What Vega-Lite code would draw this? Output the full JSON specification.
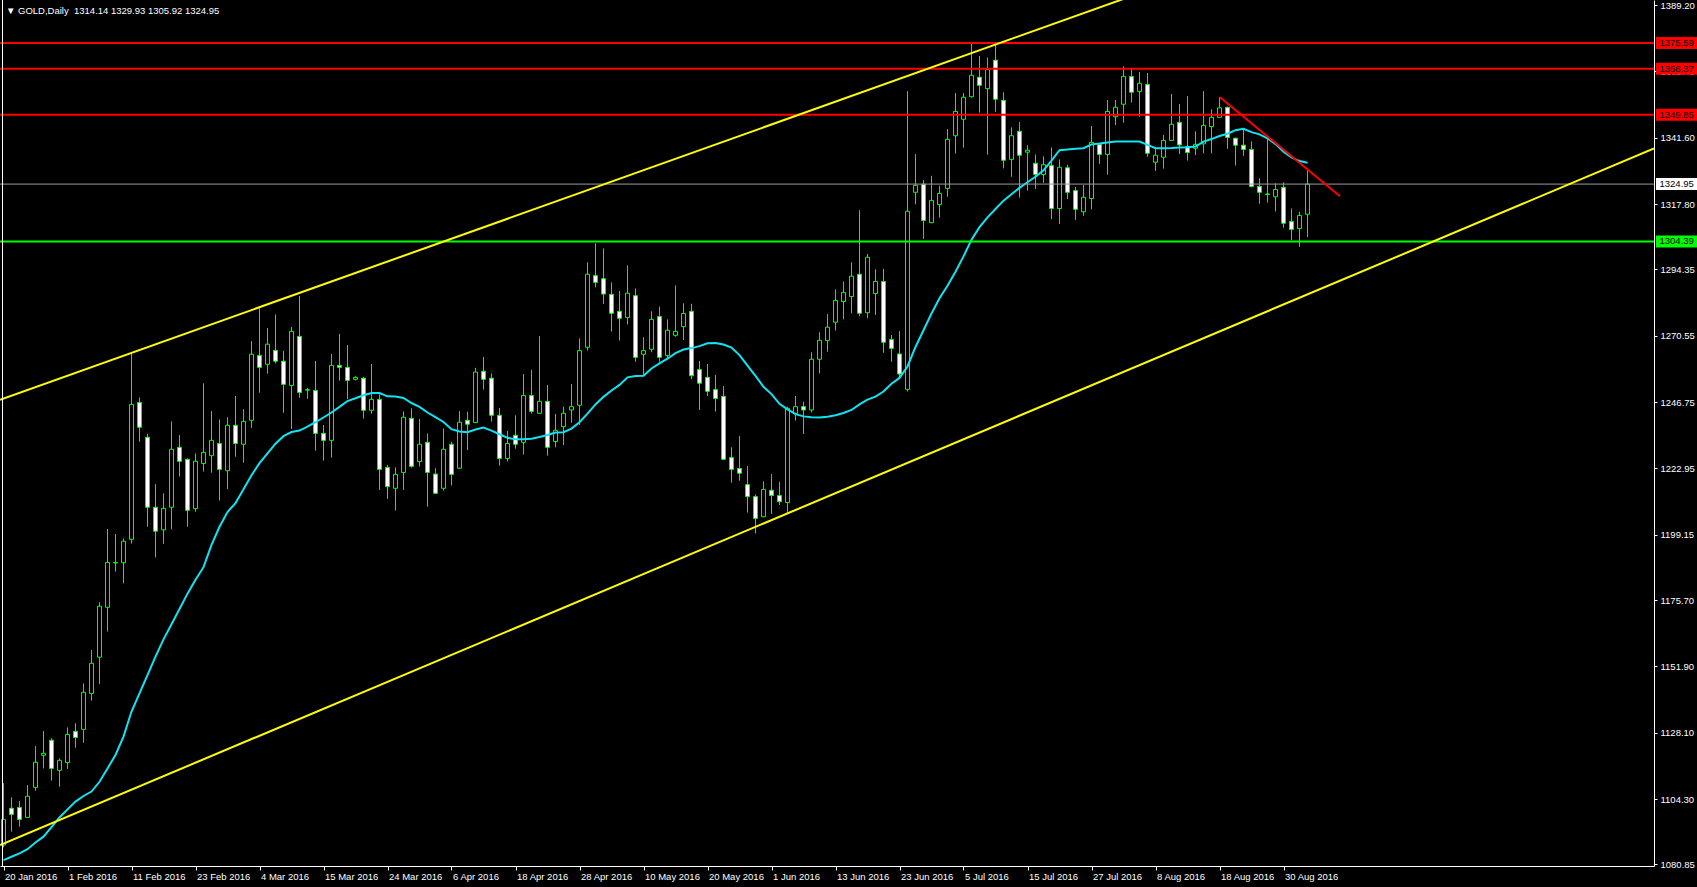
{
  "$schema": "https://vega.github.io/schema/vega-lite/v6.json",
  "width": 1654,
  "height": 866,
  "autosize": {"type": "none"},
  "padding": {"left": 0, "top": 0, "right": 43, "bottom": 21},
  "background": "#000000",
  "config": {"view": {"stroke": null}, "axis": {"grid": false, "labelColor": "#ffffff", "tickColor": "#ffffff", "domainColor": "#ffffff", "labelFont": "Liberation Sans", "labelFontSize": 9.5}, "font": "Liberation Sans"},
  "title": {"text": "▼ GOLD,Daily \u00a01314.14 1329.93 1305.92 1324.95", "anchor": "start", "frame": "group", "color": "#ffffff", "fontSize": 9.5, "fontWeight": "normal", "font": "Liberation Sans", "dx": 6, "dy": 28, "offset": 4, "baseline": "alphabetic"},
  "resolve": {"scale": {"color": "independent"}},
  "datasets": {
    "candles": [
      {"i":0,"o":1087.8,"h":1110.0,"l":1087.0,"c":1097.0,"ma":1082.4},
      {"i":1,"o":1101.0,"h":1104.9,"l":1092.6,"c":1098.8,"ma":1083.6},
      {"i":2,"o":1101.3,"h":1103.6,"l":1094.4,"c":1097.0,"ma":1084.8},
      {"i":3,"o":1097.7,"h":1109.3,"l":1097.5,"c":1105.3,"ma":1086.3},
      {"i":4,"o":1108.5,"h":1123.3,"l":1107.3,"c":1117.5,"ma":1088.7},
      {"i":5,"o":1120.0,"h":1128.7,"l":1115.3,"c":1120.7,"ma":1090.8},
      {"i":6,"o":1125.4,"h":1126.1,"l":1110.9,"c":1115.3,"ma":1094.2},
      {"i":7,"o":1114.6,"h":1118.9,"l":1108.7,"c":1118.2,"ma":1097.7},
      {"i":8,"o":1117.4,"h":1130.0,"l":1115.1,"c":1127.5,"ma":1100.6},
      {"i":9,"o":1128.6,"h":1131.5,"l":1122.7,"c":1126.4,"ma":1103.4},
      {"i":10,"o":1129.3,"h":1145.8,"l":1124.5,"c":1142.6,"ma":1105.4},
      {"i":11,"o":1142.2,"h":1157.8,"l":1139.6,"c":1153.0,"ma":1107.0},
      {"i":12,"o":1155.2,"h":1174.9,"l":1145.5,"c":1173.5,"ma":1110.5},
      {"i":13,"o":1173.1,"h":1201.2,"l":1164.4,"c":1189.2,"ma":1115.3},
      {"i":14,"o":1189.0,"h":1199.4,"l":1185.9,"c":1189.2,"ma":1120.1},
      {"i":15,"o":1189.1,"h":1197.8,"l":1181.7,"c":1196.8,"ma":1126.7},
      {"i":16,"o":1197.5,"h":1264.0,"l":1196.0,"c":1245.9,"ma":1135.7},
      {"i":17,"o":1246.6,"h":1248.4,"l":1232.5,"c":1237.7,"ma":1142.2},
      {"i":18,"o":1234.1,"h":1235.3,"l":1202.0,"c":1209.0,"ma":1148.8},
      {"i":19,"o":1209.0,"h":1217.3,"l":1191.0,"c":1200.4,"ma":1155.4},
      {"i":20,"o":1200.9,"h":1214.0,"l":1195.9,"c":1208.6,"ma":1161.6},
      {"i":21,"o":1209.0,"h":1239.8,"l":1201.1,"c":1229.8,"ma":1167.0},
      {"i":22,"o":1230.5,"h":1234.9,"l":1220.0,"c":1225.5,"ma":1172.5},
      {"i":23,"o":1226.2,"h":1226.5,"l":1202.0,"c":1207.9,"ma":1178.0},
      {"i":24,"o":1208.5,"h":1228.3,"l":1207.4,"c":1225.5,"ma":1183.0},
      {"i":25,"o":1224.7,"h":1253.5,"l":1221.8,"c":1228.7,"ma":1187.5},
      {"i":26,"o":1227.5,"h":1243.5,"l":1221.4,"c":1233.0,"ma":1195.5},
      {"i":27,"o":1231.9,"h":1240.5,"l":1211.4,"c":1222.6,"ma":1202.0},
      {"i":28,"o":1222.1,"h":1241.3,"l":1215.5,"c":1238.4,"ma":1207.3},
      {"i":29,"o":1238.4,"h":1248.9,"l":1227.1,"c":1231.9,"ma":1210.5},
      {"i":30,"o":1231.6,"h":1244.2,"l":1225.0,"c":1239.8,"ma":1215.5},
      {"i":31,"o":1240.2,"h":1268.6,"l":1237.5,"c":1263.9,"ma":1220.5},
      {"i":32,"o":1263.5,"h":1280.4,"l":1250.1,"c":1259.2,"ma":1224.8},
      {"i":33,"o":1260.3,"h":1273.3,"l":1256.9,"c":1267.5,"ma":1228.3},
      {"i":34,"o":1265.3,"h":1278.2,"l":1260.6,"c":1261.4,"ma":1231.8},
      {"i":35,"o":1261.4,"h":1265.1,"l":1242.9,"c":1253.1,"ma":1234.5},
      {"i":36,"o":1252.7,"h":1273.7,"l":1237.1,"c":1272.1,"ma":1236.0},
      {"i":37,"o":1270.3,"h":1284.8,"l":1248.3,"c":1250.2,"ma":1236.5},
      {"i":38,"o":1251.0,"h":1251.8,"l":1247.9,"c":1251.2,"ma":1237.9},
      {"i":39,"o":1250.9,"h":1261.5,"l":1229.3,"c":1235.5,"ma":1239.5},
      {"i":40,"o":1235.5,"h":1238.5,"l":1225.7,"c":1233.0,"ma":1241.2},
      {"i":41,"o":1233.0,"h":1264.0,"l":1226.8,"c":1259.9,"ma":1243.0},
      {"i":42,"o":1259.9,"h":1271.2,"l":1254.4,"c":1259.2,"ma":1245.0},
      {"i":43,"o":1259.2,"h":1267.2,"l":1247.8,"c":1254.5,"ma":1247.1},
      {"i":44,"o":1254.9,"h":1256.0,"l":1254.5,"c":1255.6,"ma":1248.1},
      {"i":45,"o":1255.3,"h":1255.7,"l":1240.8,"c":1243.8,"ma":1249.2},
      {"i":46,"o":1243.8,"h":1260.4,"l":1242.6,"c":1247.7,"ma":1250.0},
      {"i":47,"o":1247.7,"h":1249.5,"l":1215.2,"c":1222.6,"ma":1250.0},
      {"i":48,"o":1223.3,"h":1224.2,"l":1212.0,"c":1216.4,"ma":1248.8},
      {"i":49,"o":1215.8,"h":1223.3,"l":1207.8,"c":1220.8,"ma":1248.7},
      {"i":50,"o":1221.5,"h":1243.4,"l":1215.2,"c":1241.3,"ma":1248.2},
      {"i":51,"o":1240.9,"h":1244.5,"l":1223.2,"c":1223.7,"ma":1246.4},
      {"i":52,"o":1225.4,"h":1240.7,"l":1223.6,"c":1231.6,"ma":1245.0},
      {"i":53,"o":1232.3,"h":1235.5,"l":1209.2,"c":1221.5,"ma":1243.0},
      {"i":54,"o":1220.9,"h":1223.0,"l":1213.8,"c":1214.0,"ma":1241.3},
      {"i":55,"o":1215.8,"h":1237.3,"l":1215.0,"c":1229.8,"ma":1239.6},
      {"i":56,"o":1231.6,"h":1232.5,"l":1216.8,"c":1220.8,"ma":1237.0},
      {"i":57,"o":1223.0,"h":1243.5,"l":1222.8,"c":1239.5,"ma":1236.2},
      {"i":58,"o":1240.2,"h":1243.3,"l":1229.5,"c":1238.8,"ma":1235.9},
      {"i":59,"o":1239.4,"h":1259.0,"l":1239.2,"c":1257.5,"ma":1236.9},
      {"i":60,"o":1257.8,"h":1262.9,"l":1251.2,"c":1254.9,"ma":1237.6},
      {"i":61,"o":1255.3,"h":1257.0,"l":1239.7,"c":1242.0,"ma":1236.5},
      {"i":62,"o":1242.0,"h":1244.6,"l":1223.9,"c":1226.5,"ma":1235.2},
      {"i":63,"o":1226.5,"h":1236.4,"l":1225.4,"c":1231.9,"ma":1233.9},
      {"i":64,"o":1234.8,"h":1242.0,"l":1230.0,"c":1231.6,"ma":1233.4},
      {"i":65,"o":1232.3,"h":1256.8,"l":1227.9,"c":1249.1,"ma":1233.4},
      {"i":66,"o":1249.1,"h":1258.3,"l":1242.6,"c":1243.4,"ma":1233.6},
      {"i":67,"o":1242.7,"h":1270.4,"l":1242.5,"c":1247.0,"ma":1234.2},
      {"i":68,"o":1247.0,"h":1252.9,"l":1227.5,"c":1230.5,"ma":1234.9},
      {"i":69,"o":1232.6,"h":1242.5,"l":1230.5,"c":1236.6,"ma":1235.8},
      {"i":70,"o":1237.9,"h":1245.1,"l":1231.3,"c":1242.7,"ma":1235.9},
      {"i":71,"o":1243.9,"h":1253.2,"l":1239.3,"c":1245.1,"ma":1237.2},
      {"i":72,"o":1245.6,"h":1269.6,"l":1238.5,"c":1265.2,"ma":1239.5},
      {"i":73,"o":1266.4,"h":1296.9,"l":1265.2,"c":1292.6,"ma":1242.6},
      {"i":74,"o":1292.1,"h":1303.7,"l":1287.9,"c":1289.7,"ma":1245.9},
      {"i":75,"o":1291.0,"h":1301.9,"l":1282.0,"c":1285.5,"ma":1248.6},
      {"i":76,"o":1285.4,"h":1289.7,"l":1272.0,"c":1278.6,"ma":1250.9},
      {"i":77,"o":1279.3,"h":1286.6,"l":1268.8,"c":1276.8,"ma":1252.9},
      {"i":78,"o":1277.1,"h":1295.8,"l":1274.6,"c":1285.8,"ma":1255.6},
      {"i":79,"o":1284.9,"h":1287.5,"l":1261.2,"c":1262.8,"ma":1256.1},
      {"i":80,"o":1263.9,"h":1270.0,"l":1256.5,"c":1265.2,"ma":1256.2},
      {"i":81,"o":1265.7,"h":1279.3,"l":1264.6,"c":1276.4,"ma":1258.8},
      {"i":82,"o":1277.4,"h":1281.0,"l":1261.2,"c":1262.8,"ma":1260.6},
      {"i":83,"o":1263.4,"h":1276.4,"l":1262.4,"c":1272.5,"ma":1262.3},
      {"i":84,"o":1270.7,"h":1288.6,"l":1270.2,"c":1272.1,"ma":1264.3},
      {"i":85,"o":1273.8,"h":1282.2,"l":1269.0,"c":1278.5,"ma":1265.6},
      {"i":86,"o":1279.3,"h":1282.0,"l":1255.0,"c":1256.2,"ma":1266.1},
      {"i":87,"o":1258.4,"h":1261.5,"l":1243.9,"c":1253.5,"ma":1266.8},
      {"i":88,"o":1255.6,"h":1260.4,"l":1248.9,"c":1250.6,"ma":1267.8},
      {"i":89,"o":1251.2,"h":1256.5,"l":1243.3,"c":1248.0,"ma":1267.9},
      {"i":90,"o":1248.8,"h":1252.5,"l":1226.0,"c":1226.2,"ma":1267.4},
      {"i":91,"o":1226.8,"h":1230.5,"l":1217.8,"c":1222.6,"ma":1266.3},
      {"i":92,"o":1222.9,"h":1234.6,"l":1218.5,"c":1221.2,"ma":1263.6},
      {"i":93,"o":1217.1,"h":1223.8,"l":1207.1,"c":1212.8,"ma":1259.8},
      {"i":94,"o":1212.8,"h":1213.6,"l":1199.6,"c":1205.0,"ma":1256.1},
      {"i":95,"o":1205.6,"h":1218.3,"l":1205.4,"c":1215.4,"ma":1252.2},
      {"i":96,"o":1215.1,"h":1220.9,"l":1206.6,"c":1213.2,"ma":1249.6},
      {"i":97,"o":1213.2,"h":1218.1,"l":1209.8,"c":1211.0,"ma":1246.1},
      {"i":98,"o":1210.7,"h":1245.1,"l":1206.8,"c":1244.5,"ma":1244.1},
      {"i":99,"o":1242.7,"h":1248.9,"l":1240.1,"c":1245.1,"ma":1242.4},
      {"i":100,"o":1245.1,"h":1246.9,"l":1235.3,"c":1243.9,"ma":1241.6},
      {"i":101,"o":1243.9,"h":1264.6,"l":1243.0,"c":1262.1,"ma":1241.3},
      {"i":102,"o":1262.1,"h":1271.8,"l":1257.0,"c":1268.9,"ma":1241.2},
      {"i":103,"o":1268.8,"h":1278.3,"l":1264.8,"c":1273.6,"ma":1241.5},
      {"i":104,"o":1275.4,"h":1287.2,"l":1272.4,"c":1283.2,"ma":1242.0},
      {"i":105,"o":1282.8,"h":1290.0,"l":1276.4,"c":1286.1,"ma":1242.8},
      {"i":106,"o":1284.6,"h":1296.9,"l":1278.6,"c":1291.9,"ma":1243.9},
      {"i":107,"o":1292.6,"h":1315.6,"l":1277.6,"c":1278.6,"ma":1245.9},
      {"i":108,"o":1278.8,"h":1299.9,"l":1276.8,"c":1298.7,"ma":1247.6},
      {"i":109,"o":1285.7,"h":1294.4,"l":1278.0,"c":1290.0,"ma":1248.7},
      {"i":110,"o":1290.0,"h":1294.5,"l":1264.4,"c":1268.2,"ma":1250.5},
      {"i":111,"o":1269.2,"h":1270.8,"l":1261.2,"c":1266.0,"ma":1253.3},
      {"i":112,"o":1264.0,"h":1272.2,"l":1255.3,"c":1256.8,"ma":1255.4},
      {"i":113,"o":1251.3,"h":1358.3,"l":1250.5,"c":1315.2,"ma":1259.5},
      {"i":114,"o":1322.0,"h":1335.7,"l":1317.7,"c":1324.5,"ma":1266.5},
      {"i":115,"o":1324.9,"h":1326.4,"l":1305.3,"c":1311.9,"ma":1272.5},
      {"i":116,"o":1311.1,"h":1327.9,"l":1310.9,"c":1319.1,"ma":1278.5},
      {"i":117,"o":1317.6,"h":1324.3,"l":1312.9,"c":1321.6,"ma":1284.0},
      {"i":118,"o":1323.4,"h":1344.7,"l":1320.4,"c":1341.0,"ma":1288.5},
      {"i":119,"o":1342.3,"h":1357.6,"l":1335.9,"c":1351.0,"ma":1293.5},
      {"i":120,"o":1348.2,"h":1357.6,"l":1338.0,"c":1356.1,"ma":1299.0},
      {"i":121,"o":1356.3,"h":1375.2,"l":1356.0,"c":1364.0,"ma":1305.0},
      {"i":122,"o":1363.3,"h":1370.9,"l":1350.6,"c":1360.4,"ma":1309.5},
      {"i":123,"o":1359.2,"h":1370.4,"l":1335.5,"c":1366.1,"ma":1313.0},
      {"i":124,"o":1369.4,"h":1375.5,"l":1350.9,"c":1355.4,"ma":1316.0},
      {"i":125,"o":1355.0,"h":1357.9,"l":1330.6,"c":1333.5,"ma":1319.0},
      {"i":126,"o":1333.8,"h":1345.3,"l":1327.6,"c":1342.3,"ma":1321.3},
      {"i":127,"o":1343.9,"h":1347.2,"l":1320.1,"c":1335.3,"ma":1323.6},
      {"i":128,"o":1336.4,"h":1338.9,"l":1322.6,"c":1337.1,"ma":1325.6},
      {"i":129,"o":1332.4,"h":1335.6,"l":1323.2,"c":1328.4,"ma":1327.6},
      {"i":130,"o":1328.4,"h":1334.9,"l":1325.4,"c":1331.9,"ma":1329.9},
      {"i":131,"o":1331.6,"h":1338.1,"l":1312.4,"c":1316.2,"ma":1333.4},
      {"i":132,"o":1316.2,"h":1333.8,"l":1310.7,"c":1331.0,"ma":1337.1},
      {"i":133,"o":1330.8,"h":1331.9,"l":1319.6,"c":1322.0,"ma":1337.4},
      {"i":134,"o":1322.6,"h":1323.9,"l":1312.1,"c":1315.9,"ma":1337.6},
      {"i":135,"o":1315.0,"h":1324.6,"l":1313.6,"c":1320.2,"ma":1337.8},
      {"i":136,"o":1319.8,"h":1345.8,"l":1315.9,"c":1339.9,"ma":1339.2},
      {"i":137,"o":1339.2,"h":1339.6,"l":1332.2,"c":1335.6,"ma":1339.5},
      {"i":138,"o":1335.6,"h":1355.1,"l":1328.3,"c":1351.0,"ma":1339.9},
      {"i":139,"o":1349.1,"h":1355.1,"l":1346.1,"c":1352.5,"ma":1340.2},
      {"i":140,"o":1353.6,"h":1367.2,"l":1347.0,"c":1363.6,"ma":1340.2},
      {"i":141,"o":1363.5,"h":1366.5,"l":1354.2,"c":1357.9,"ma":1340.2},
      {"i":142,"o":1358.2,"h":1365.2,"l":1349.1,"c":1361.1,"ma":1340.2},
      {"i":143,"o":1360.7,"h":1364.8,"l":1334.8,"c":1336.0,"ma":1339.0},
      {"i":144,"o":1332.8,"h":1338.1,"l":1329.7,"c":1335.3,"ma":1337.8},
      {"i":145,"o":1334.6,"h":1342.6,"l":1330.5,"c":1340.6,"ma":1337.8},
      {"i":146,"o":1340.6,"h":1357.3,"l":1340.5,"c":1346.4,"ma":1337.9},
      {"i":147,"o":1347.1,"h":1353.7,"l":1335.7,"c":1339.0,"ma":1338.1},
      {"i":148,"o":1338.4,"h":1356.5,"l":1333.4,"c":1336.3,"ma":1338.2},
      {"i":149,"o":1337.8,"h":1343.9,"l":1335.4,"c":1339.2,"ma":1338.4},
      {"i":150,"o":1339.4,"h":1358.3,"l":1336.0,"c":1346.0,"ma":1340.2},
      {"i":151,"o":1345.6,"h":1351.8,"l":1336.0,"c":1348.9,"ma":1341.1},
      {"i":152,"o":1348.9,"h":1356.1,"l":1348.7,"c":1352.3,"ma":1342.2},
      {"i":153,"o":1352.5,"h":1352.7,"l":1337.6,"c":1341.7,"ma":1343.0},
      {"i":154,"o":1341.4,"h":1341.6,"l":1331.6,"c":1338.9,"ma":1344.3},
      {"i":155,"o":1338.9,"h":1344.6,"l":1335.1,"c":1337.4,"ma":1344.8},
      {"i":156,"o":1337.4,"h":1340.3,"l":1323.8,"c":1324.1,"ma":1343.6},
      {"i":157,"o":1324.1,"h":1327.0,"l":1317.9,"c":1322.0,"ma":1342.8},
      {"i":158,"o":1321.2,"h":1342.4,"l":1318.3,"c":1321.4,"ma":1341.4},
      {"i":159,"o":1320.4,"h":1325.2,"l":1315.1,"c":1323.0,"ma":1339.3},
      {"i":160,"o":1323.8,"h":1325.6,"l":1309.3,"c":1310.9,"ma":1336.6},
      {"i":161,"o":1311.5,"h":1316.2,"l":1304.9,"c":1308.7,"ma":1334.5},
      {"i":162,"o":1309.0,"h":1315.0,"l":1302.5,"c":1313.7,"ma":1333.2},
      {"i":163,"o":1314.14,"h":1329.93,"l":1305.92,"c":1324.95,"ma":1332.6}
    ],
    "trend": [
      {"name":"channel_top","i":-0.4375,"p":1247.55},
      {"name":"channel_top","i":144.56,"p":1396.06},
      {"name":"channel_bottom","i":-0.4375,"p":1087.81},
      {"name":"channel_bottom","i":206.3125,"p":1337.72},
      {"name":"down","i":152.06,"p":1356.09},
      {"name":"down","i":167.06,"p":1320.57}
    ],
    "levels": [
      {"kind":"resistance","p":1375.59},
      {"kind":"resistance","p":1366.37},
      {"kind":"resistance","p":1349.85},
      {"kind":"support","p":1304.39},
      {"kind":"bid","p":1324.95}
    ],
    "frame": [{"edge": -0.125}]
  },
  "layer": [
    {
      "data": {"name": "candles"},
      "mark": {"type": "rule", "color": "#00ff00", "strokeWidth": 1},
      "encoding": {
        "x": {"field": "i", "type": "quantitative", "title": null, "scale": {"domain": [-0.4375, 206.3125], "nice": false, "zero": false, "padding": 0},
          "axis": {"title": null, "values": [0,8,16,24,32,40,48,56,64,72,80,88,96,104,112,120,128,136,144,152,160],
            "labelExpr": "['20 Jan 2016','1 Feb 2016','11 Feb 2016','23 Feb 2016','4 Mar 2016','15 Mar 2016','24 Mar 2016','6 Apr 2016','18 Apr 2016','28 Apr 2016','10 May 2016','20 May 2016','1 Jun 2016','13 Jun 2016','23 Jun 2016','5 Jul 2016','15 Jul 2016','27 Jul 2016','8 Aug 2016','18 Aug 2016','30 Aug 2016'][round(datum.value/8)]",
            "labelAlign": "left", "labelBaseline": "top", "labelOffset": 1, "labelPadding": 1,
            "labelOverlap": false, "labelBound": false, "labelFlush": false,
            "tickSize": 4, "grid": false}},
        "y": {"field": "l", "type": "quantitative", "title": null, "scale": {"domain": [1080.28, 1391.0], "nice": false, "zero": false},
          "axis": {"title": null, "orient": "right", "format": ".2f",
            "values": [1389.20,1377.30,1365.40,1353.50,1341.60,1329.70,1317.80,1305.90,1294.35,1282.45,1270.55,1258.65,1246.75,1234.85,1222.95,1211.05,1199.15,1187.60,1175.70,1163.80,1151.90,1140.00,1128.10,1116.20,1104.30,1092.40,1080.85],
            "labelPadding": 3, "labelBaseline": "middle",
            "labelOverlap": false, "labelBound": false, "labelFlush": false,
            "tickSize": 3, "grid": false}},
        "y2": {"field": "h"}
      }
    },
    {
      "data": {"name": "candles"},
      "mark": {"type": "bar", "orient": "vertical", "width": 4, "stroke": "#00ff00", "strokeWidth": 1},
      "encoding": {
        "x": {"field": "i", "type": "quantitative", "title": null, "scale": {"domain": [-0.4375, 206.3125], "nice": false, "zero": false, "padding": 0}},
        "y": {"field": "o", "type": "quantitative", "title": null, "scale": {"domain": [1080.28, 1391.0], "nice": false, "zero": false}},
        "y2": {"field": "c"},
        "fill": {"condition": {"test": "datum.c < datum.o", "value": "#ffffff"}, "value": "#000000"}
      }
    },
    {
      "data": {"name": "candles"},
      "mark": {"type": "line", "color": "#10e4f2", "strokeWidth": 2},
      "encoding": {
        "x": {"field": "i", "type": "quantitative", "title": null, "scale": {"domain": [-0.4375, 206.3125], "nice": false, "zero": false, "padding": 0}},
        "y": {"field": "ma", "type": "quantitative", "title": null, "scale": {"domain": [1080.28, 1391.0], "nice": false, "zero": false}}
      }
    },
    {
      "data": {"name": "levels"},
      "transform": [{"filter": "datum.kind === 'bid'"}],
      "mark": {"type": "rule", "color": "#9c9c9c", "strokeWidth": 1},
      "encoding": {
        "y": {"field": "p", "type": "quantitative", "title": null, "scale": {"domain": [1080.28, 1391.0], "nice": false, "zero": false}}
      }
    },
    {
      "data": {"name": "levels"},
      "transform": [{"filter": "datum.kind !== 'bid'"}],
      "mark": {"type": "rule", "strokeWidth": 2},
      "encoding": {
        "y": {"field": "p", "type": "quantitative", "title": null, "scale": {"domain": [1080.28, 1391.0], "nice": false, "zero": false}},
        "color": {"field": "kind", "type": "nominal", "scale": {"domain": ["resistance", "support", "bid"], "range": ["#ff0000", "#00ff00", "#ffffff"]}, "legend": null}
      }
    },
    {
      "data": {"name": "trend"},
      "mark": {"type": "line", "strokeWidth": 2, "clip": true},
      "encoding": {
        "x": {"field": "i", "type": "quantitative", "title": null, "scale": {"domain": [-0.4375, 206.3125], "nice": false, "zero": false, "padding": 0}},
        "y": {"field": "p", "type": "quantitative", "title": null, "scale": {"domain": [1080.28, 1391.0], "nice": false, "zero": false}},
        "detail": {"field": "name", "type": "nominal"},
        "color": {"field": "name", "type": "nominal", "scale": {"domain": ["channel_top", "channel_bottom", "down"], "range": ["#ffff00", "#ffff00", "#ff0000"]}, "legend": null}
      }
    },
    {
      "data": {"name": "frame"},
      "mark": {"type": "rule", "color": "#ffffff", "strokeWidth": 1},
      "encoding": {
        "x": {"field": "edge", "type": "quantitative", "title": null, "scale": {"domain": [-0.4375, 206.3125], "nice": false, "zero": false, "padding": 0}}
      }
    },
    {
      "data": {"name": "levels"},
      "mark": {"type": "rule", "strokeWidth": 12, "strokeCap": "butt"},
      "encoding": {
        "x": {"datum": 206.56, "type": "quantitative", "title": null, "scale": {"domain": [-0.4375, 206.3125], "nice": false, "zero": false, "padding": 0}},
        "x2": {"datum": 213},
        "y": {"field": "p", "type": "quantitative", "title": null, "scale": {"domain": [1080.28, 1391.0], "nice": false, "zero": false}},
        "color": {"field": "kind", "type": "nominal", "scale": {"domain": ["resistance", "support", "bid"], "range": ["#ff0000", "#00ff00", "#ffffff"]}, "legend": null}
      }
    },
    {
      "data": {"name": "levels"},
      "mark": {"type": "text", "align": "left", "baseline": "middle", "color": "#000000", "font": "Liberation Sans", "fontSize": 9.5},
      "encoding": {
        "x": {"datum": 207.0, "type": "quantitative", "title": null, "scale": {"domain": [-0.4375, 206.3125], "nice": false, "zero": false, "padding": 0}},
        "y": {"field": "p", "type": "quantitative", "title": null, "scale": {"domain": [1080.28, 1391.0], "nice": false, "zero": false}},
        "text": {"field": "p", "type": "quantitative", "format": ".2f"}
      }
    }
  ]
}
